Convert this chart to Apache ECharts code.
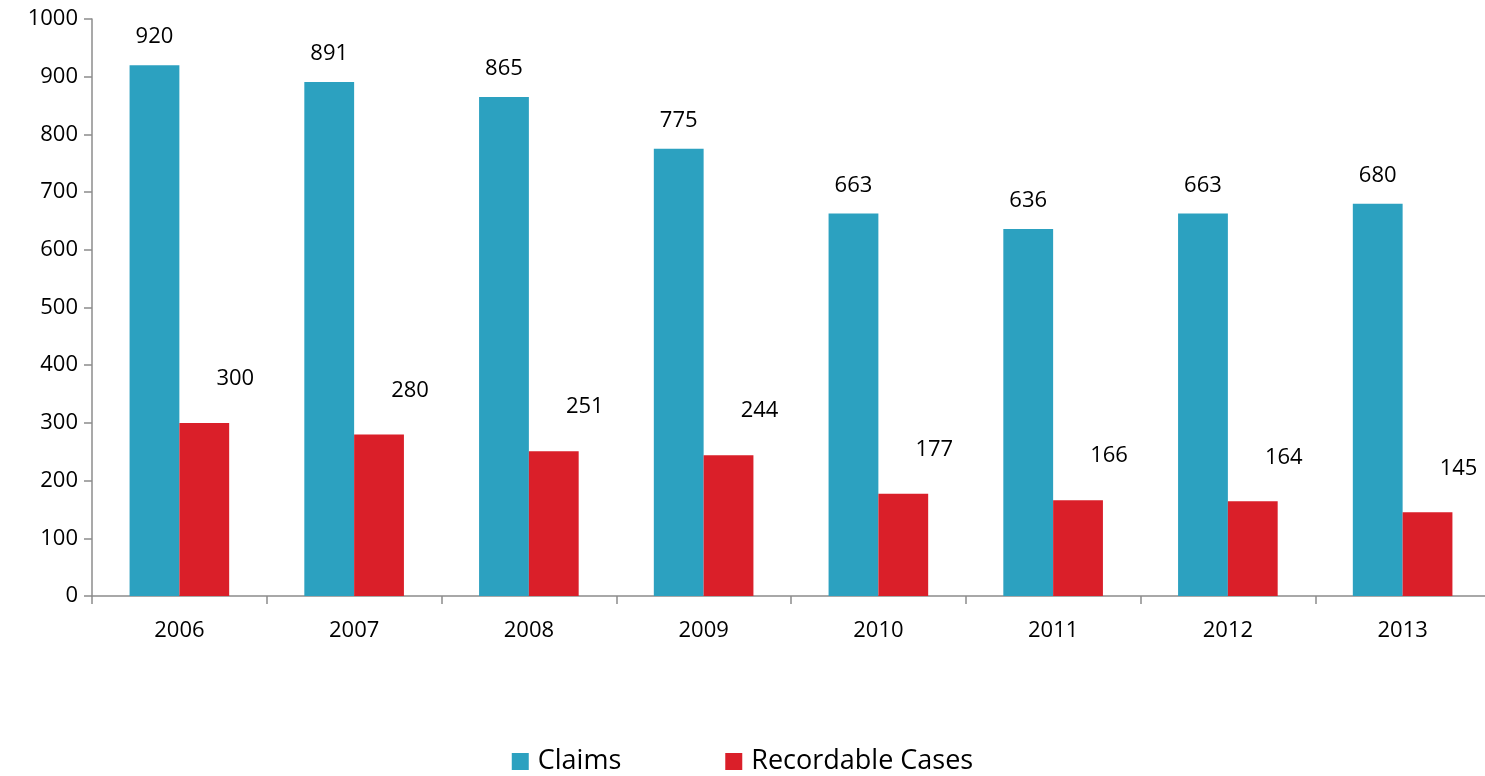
<!DOCTYPE html>
<html><head><meta charset="utf-8">
<script src="https://cdn.jsdelivr.net/npm/echarts@6/dist/echarts.min.js"></script>
<style>html,body{margin:0;padding:0;background:#fff}#c{width:1485px;height:776px}</style>
</head><body><div id="c"></div>
<script>
var years = ['2006','2007','2008','2009','2010','2011','2012','2013'];
var claims = [920, 891, 865, 775, 663, 636, 663, 680];
var recordable = [300, 280, 251, 244, 177, 166, 164, 145];
var yTicks = {min: 0, max: 1000, interval: 100};

var FONT = 'Open Sans';
var chart = echarts.init(document.getElementById('c'));
chart.setOption({
  animation: false,
  textStyle: {fontFamily: FONT},
  grid: {left: 92, width: 1398, top: 19, bottom: 180, outerBoundsMode: 'none', containLabel: false},
  legend: {
    bottom: -4, left: 'center',
    itemWidth: 17, itemHeight: 17, itemGap: 104,
    icon: 'rect',
    textStyle: {fontFamily: FONT, fontSize: 27, color: '#000', padding: [0, 0, 0, 4]},
    data: ['Claims', 'Recordable Cases']
  },
  xAxis: {
    type: 'category', data: years,
    axisLine: {lineStyle: {color: '#8c8c8c', width: 1.5}},
    axisTick: {show: true, length: 8, alignWithLabel: false, lineStyle: {color: '#8c8c8c', width: 1.5}},
    axisLabel: {fontFamily: FONT, fontSize: 22, color: '#000', margin: 24}
  },
  yAxis: {
    type: 'value', min: yTicks.min, max: yTicks.max, interval: yTicks.interval,
    axisLine: {show: true, lineStyle: {color: '#8c8c8c', width: 1.5}},
    axisTick: {show: true, length: 8, lineStyle: {color: '#8c8c8c', width: 1.5}},
    splitLine: {show: false},
    axisLabel: {fontFamily: FONT, fontSize: 22, color: '#000', margin: 14, formatter: function (v) { return String(v); }}
  },
  series: [
    {
      name: 'Claims', type: 'bar', data: claims,
      barGap: '0%', barCategoryGap: '43%',
      itemStyle: {color: '#2ca1c0'},
      label: {show: true, position: 'top', offset: [0, -12], fontFamily: FONT, fontSize: 22, color: '#000'}
    },
    {
      name: 'Recordable Cases', type: 'bar', data: recordable,
      barGap: '0%', barCategoryGap: '43%',
      itemStyle: {color: '#da1f29'},
      label: {show: true, position: 'top', offset: [31, -28], fontFamily: FONT, fontSize: 22, color: '#000'}
    }
  ]
});
</script>
</body></html>
